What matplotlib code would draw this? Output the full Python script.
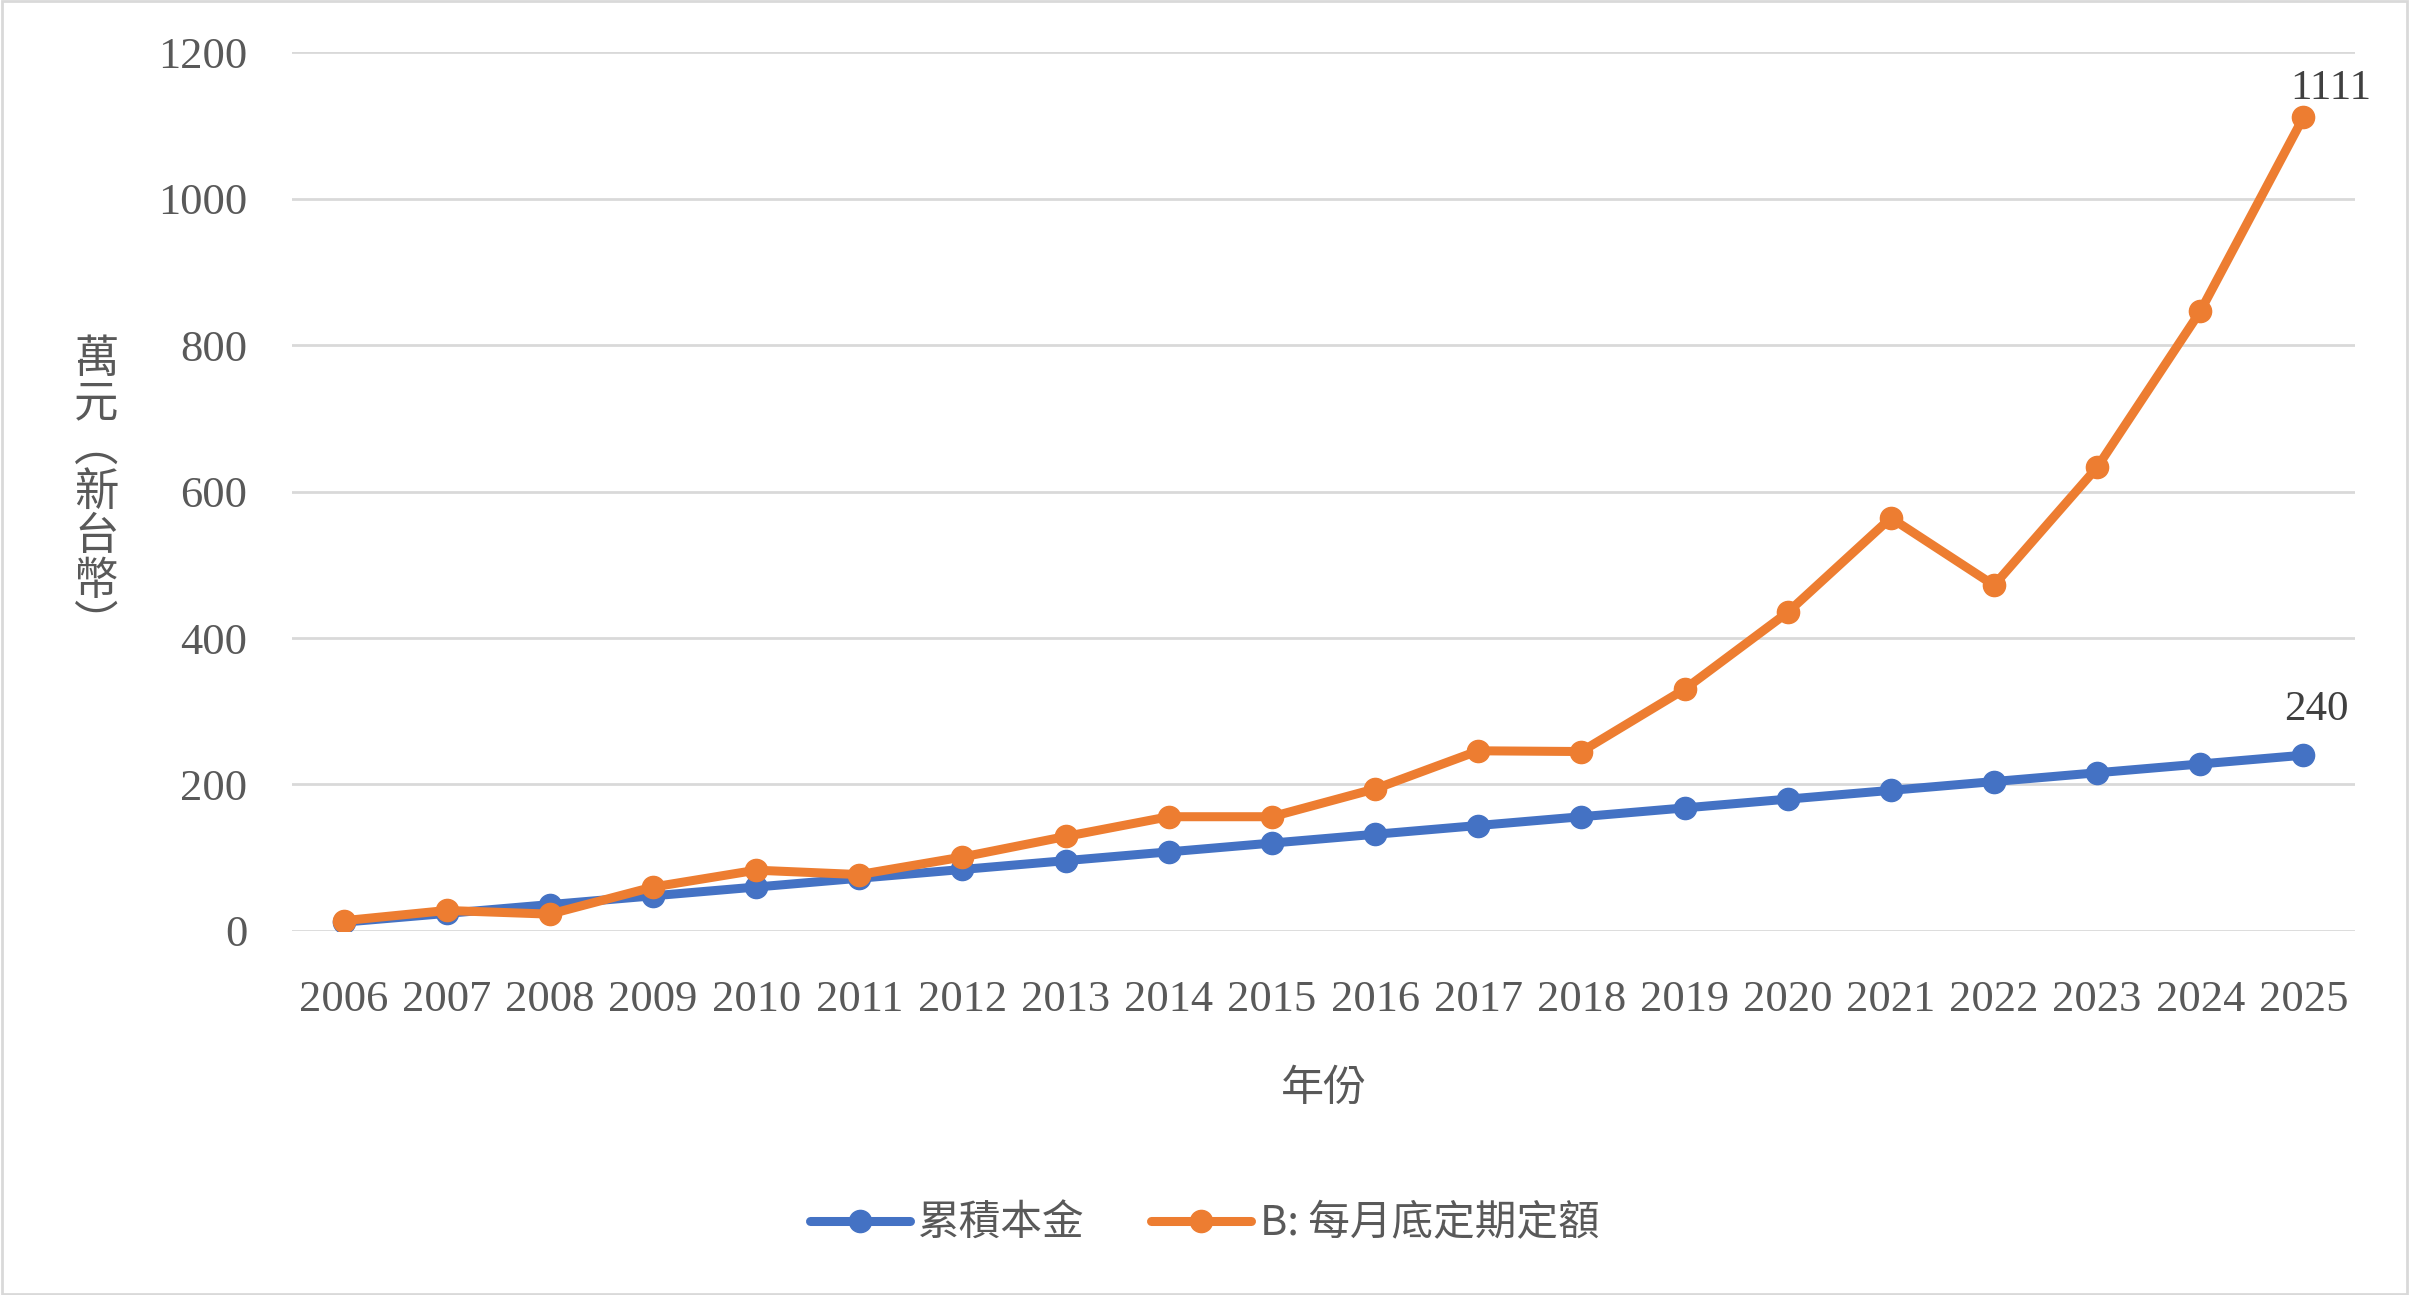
import numpy as np
import matplotlib.pyplot as plt
from matplotlib.patches import Rectangle

years = ['2006', '2007', '2008', '2009', '2010', '2011', '2012', '2013', '2014', '2015',
         '2016', '2017', '2018', '2019', '2020', '2021', '2022', '2023', '2024', '2025']
principal = [12, 24, 36, 48, 60, 72, 84, 96, 108, 120,
             132, 144, 156, 168, 180, 192, 204, 216, 228, 240]
dca_b = [14, 28, 23, 60, 83, 77, 101, 129, 156, 156,
         194, 246, 245, 330, 435, 564, 472, 633, 846, 1111]
yticks = [0, 200, 400, 600, 800, 1000, 1200]

serif = ['Liberation Serif', 'Noto Sans CJK TC']
cjk = ['Noto Sans CJK TC', 'Liberation Serif']
blue = '#4472C4'
orange = '#ED7D31'
gray = '#595959'

fig = plt.figure(figsize=(24.09, 12.95), dpi=100)
ax = fig.add_axes([0.1212, 0.2811, 0.8564, 0.6787])

x = np.arange(len(years))
ax.plot(x, principal, color=blue, lw=6.5, marker='o', ms=16, label='累積本金',
        solid_capstyle='round', zorder=3)
ax.plot(x, dca_b, color=orange, lw=6.5, marker='o', ms=16, label='B: 每月底定期定額',
        solid_capstyle='round', zorder=4)

# data labels on the last point
ax.annotate(str(dca_b[-1]), (x[-1], dca_b[-1]), xytext=(20, 7), textcoords='offset points',
            ha='center', va='bottom', fontsize=31, color='#404040', family=serif)
ax.annotate(str(principal[-1]), (x[-1], principal[-1]), xytext=(9, 19), textcoords='offset points',
            ha='center', va='bottom', fontsize=31, color='#404040', family=serif)

ax.set_xlim(-0.5, len(years) - 0.5)
ax.set_ylim(0, 1200)
ax.set_yticks(yticks)
ax.set_xticks(x)
ax.set_xticklabels(years)
ax.grid(axis='y', color='#D9D9D9', lw=2)
ax.set_axisbelow(True)
for s in ax.spines.values():
    s.set_visible(False)
ax.tick_params(length=0, labelsize=32, labelcolor=gray)
ax.tick_params(axis='x', pad=35)
ax.tick_params(axis='y', pad=32)
for lab in ax.get_xticklabels() + ax.get_yticklabels():
    lab.set_family(serif)

ax.set_xlabel('年份', fontsize=31, color=gray, family=cjk, labelpad=34)
fig.text(0.040, 0.620, '萬\n元\n︵\n新\n台\n幣\n︶', fontsize=32, color=gray, family=cjk,
         ha='center', va='center', linespacing=0.95)

leg = fig.legend(loc='center', bbox_to_anchor=(0.5, 0.055), ncol=2, frameon=False,
                 prop={'family': cjk, 'size': 30}, handlelength=2.4, columnspacing=1.6,
                 handletextpad=0.2)
for t in leg.get_texts():
    t.set_color(gray)

fig.patches.append(Rectangle((0.001, 0.001), 0.998, 0.998, transform=fig.transFigure,
                             fill=False, edgecolor='#D9D9D9', lw=2))

fig.savefig('out.png', dpi=100)
